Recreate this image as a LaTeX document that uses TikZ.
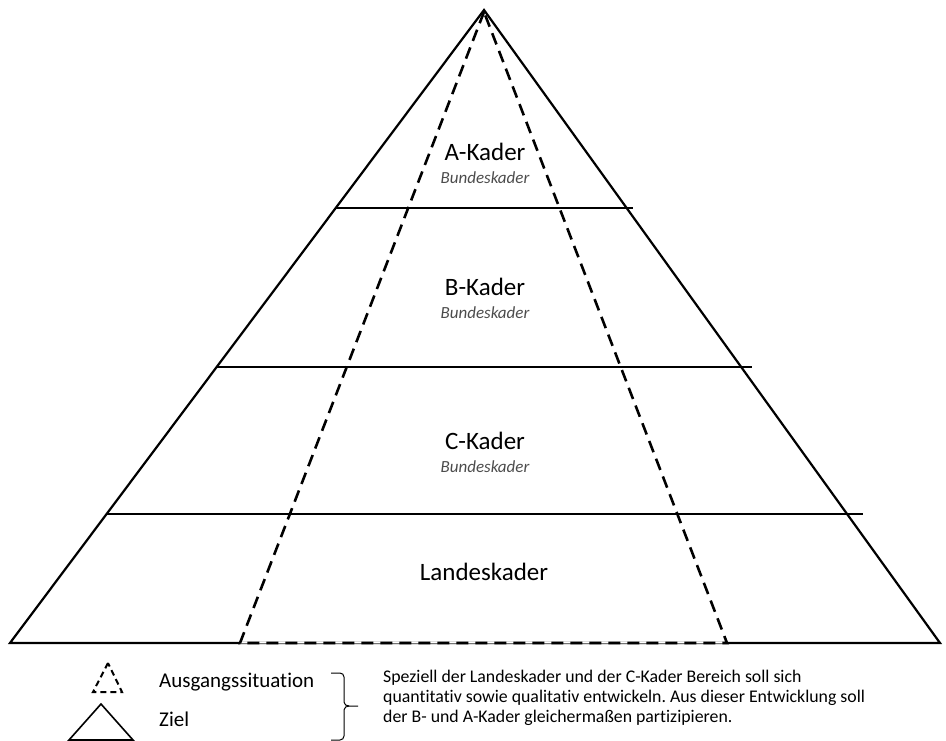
\documentclass[tikz,border=0pt]{standalone}
\usepackage{fontspec}
\setmainfont{Carlito}[Ligatures=NoCommon]
\frenchspacing
\begin{document}
\begin{tikzpicture}[x=1pt,y=-1pt,
  solidline/.style={line width=2.2pt,line join=miter},
  layerline/.style={line width=1.4pt},
  dashline/.style={line width=2.6pt,dash pattern=on 12pt off 7pt},
  lvl/.style={font=\fontsize{25}{28}\selectfont,inner sep=0pt,anchor=base},
  sub/.style={font=\fontsize{17}{20}\selectfont\itshape,text=black!70,inner sep=0pt,anchor=base},
  legtext/.style={font=\fontsize{21}{24}\selectfont,inner sep=0pt,anchor=base west},
  desc/.style={font=\fontsize{17.8}{20}\selectfont,inner sep=0pt,anchor=base west}]
\useasboundingbox (0,0) rectangle (946,741);
% main pyramid
\coordinate (apex) at (484,10);
\coordinate (dapex) at (484,12);
\coordinate (bl) at (10,643);
\coordinate (br) at (940,643);
\coordinate (dl) at (240,643);
\coordinate (dr) at (727,643);
\coordinate (l1a) at (336,208); \coordinate (l1b) at (633,208);
\coordinate (l2a) at (217,367); \coordinate (l2b) at (752,367);
\coordinate (l3a) at (106,514); \coordinate (l3b) at (863,514);
\draw[layerline] (l1a) -- (l1b);
\draw[layerline] (l2a) -- (l2b);
\draw[layerline] (l3a) -- (l3b);
\draw[solidline] (bl) -- (apex) -- (br) -- cycle;
\draw[line width=1.4pt,white] (dl) -- (dr);
\draw[line width=0.9pt,black!55] (dl) -- (dr);
\draw[dashline] (dapex) -- (dl) -- (dr) -- cycle;
% labels
\node[lvl] (ka) at (485,161) {A-Kader};
\node[sub] (kas) at (485,184) {Bundeskader};
\node[lvl] (kb) at (485,295) {B-Kader};
\node[sub] (kbs) at (485,318) {Bundeskader};
\node[lvl] (kc) at (485,449) {C-Kader};
\node[sub] (kcs) at (485,472) {Bundeskader};
\node[lvl] (kl) at (484,580) {Landeskader};
% legend
\coordinate (ta) at (108,663); \coordinate (tb) at (93,692); \coordinate (tc) at (122,692);
\draw[line width=2pt,dash pattern=on 6pt off 4pt] (ta) -- (tb) -- (tc) -- cycle;
\coordinate (sa) at (101,704); \coordinate (sb) at (69,740); \coordinate (sc) at (133,740);
\draw[line width=1.6pt] (sa) -- (sb) -- (sc) -- cycle;
\node[legtext] (aus) at (159,687) {Ausgangssituation};
\node[legtext] (ziel) at (159,726) {Ziel};
\coordinate (bt) at (331,673); \coordinate (bb) at (331,740);
\coordinate (btip) at (358,706);
\draw[line width=1pt] (bt) -- (340,673) to[out=0,in=90] (344,677) -- (344,702) to[out=-90,in=180] (349,706) -- (btip);
\draw[line width=1pt] (bb) -- (340,740) to[out=0,in=-90] (344,736) -- (344,710) to[out=90,in=180] (349,706);
\node[desc] (t1) at (383,682) {Speziell der Landeskader und der C-Kader Bereich soll sich};
\node[desc] (t2) at (383,702) {quantitativ sowie qualitativ entwickeln. Aus dieser Entwicklung soll};
\node[desc] (t3) at (383,722) {der B- und A-Kader gleichermaßen partizipieren.};
\end{tikzpicture}
\end{document}
